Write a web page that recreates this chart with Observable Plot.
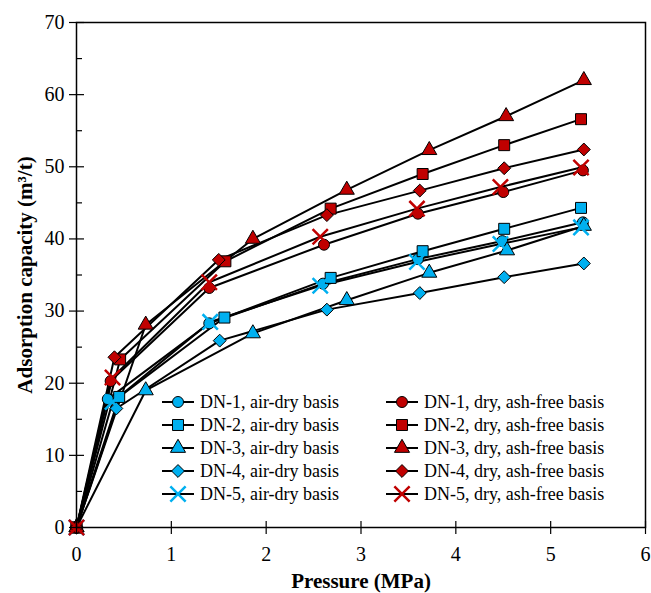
<!DOCTYPE html>
<html>
<head>
<meta charset="utf-8">
<script src="https://cdn.jsdelivr.net/npm/d3@7"></script>
<script src="https://cdn.jsdelivr.net/npm/@observablehq/plot@0.6"></script>
<style>
  html, body { margin: 0; padding: 0; background: #fff; }
  #wrap { position: relative; width: 651px; height: 593px; font-family: 'Liberation Serif', 'Times New Roman', Tinos, 'DejaVu Serif', serif; }
  #wrap svg text { font-family: 'Liberation Serif', 'Times New Roman', Tinos, 'DejaVu Serif', serif; }
  .leg { position: absolute; font-size: 18px; color: #000; white-space: nowrap; line-height: 1; font-family: 'Liberation Serif', 'Times New Roman', Tinos, 'DejaVu Serif', serif; }
  .leg .row { position: absolute; display: flex; align-items: center; height: 20px; }
  .leg svg { overflow: visible; }
</style>
</head>
<body>
<div id="wrap"></div>
<script>
// ---- data ----
const pressure_DN1_air = [0, 0.33, 1.40, 2.60, 3.60, 4.49, 5.34];
const capacity_DN1_air = [0, 17.8, 28.3, 33.8, 37.2, 39.7, 42.3];
const pressure_DN2_air = [0, 0.45, 1.56, 2.68, 3.65, 4.51, 5.32];
const capacity_DN2_air = [0, 18.1, 29.1, 34.6, 38.3, 41.4, 44.3];
const pressure_DN3_air = [0, 0.73, 1.86, 2.85, 3.72, 4.54, 5.35];
const capacity_DN3_air = [0, 19.0, 26.9, 31.5, 35.3, 38.4, 41.8];
const pressure_DN4_air = [0, 0.42, 1.51, 2.64, 3.62, 4.51, 5.35];
const capacity_DN4_air = [0, 16.5, 25.9, 30.2, 32.5, 34.7, 36.6];
const pressure_DN5_air = [0, 0.38, 1.41, 2.57, 3.59, 4.47, 5.32];
const capacity_DN5_air = [0, 17.4, 28.5, 33.5, 36.8, 39.3, 41.6];

const pressure_DN1_daf = [0, 0.36, 1.40, 2.61, 3.60, 4.50, 5.34];
const capacity_DN1_daf = [0, 20.3, 33.2, 39.2, 43.5, 46.5, 49.5];
const pressure_DN2_daf = [0, 0.46, 1.57, 2.68, 3.65, 4.51, 5.32];
const capacity_DN2_daf = [0, 23.3, 36.9, 44.2, 49.0, 53.0, 56.6];
const pressure_DN3_daf = [0, 0.73, 1.86, 2.85, 3.72, 4.53, 5.35];
const capacity_DN3_daf = [0, 28.1, 40.0, 46.8, 52.3, 57.0, 62.0];
const pressure_DN4_daf = [0, 0.40, 1.50, 2.64, 3.62, 4.51, 5.35];
const capacity_DN4_daf = [0, 23.6, 37.1, 43.3, 46.7, 49.8, 52.4];
const pressure_DN5_daf = [0, 0.38, 1.40, 2.57, 3.59, 4.47, 5.32];
const capacity_DN5_daf = [0, 20.8, 34.0, 40.3, 44.2, 47.2, 49.9];

const seriesNames = [
  "DN-1, air-dry basis", "DN-2, air-dry basis", "DN-3, air-dry basis", "DN-4, air-dry basis", "DN-5, air-dry basis",
  "DN-1, dry, ash-free basis", "DN-2, dry, ash-free basis", "DN-3, dry, ash-free basis", "DN-4, dry, ash-free basis", "DN-5, dry, ash-free basis"
];
const seriesPressure = [pressure_DN1_air, pressure_DN2_air, pressure_DN3_air, pressure_DN4_air, pressure_DN5_air,
  pressure_DN1_daf, pressure_DN2_daf, pressure_DN3_daf, pressure_DN4_daf, pressure_DN5_daf];
const seriesCapacity = [capacity_DN1_air, capacity_DN2_air, capacity_DN3_air, capacity_DN4_air, capacity_DN5_air,
  capacity_DN1_daf, capacity_DN2_daf, capacity_DN3_daf, capacity_DN4_daf, capacity_DN5_daf];

const xTicks = [0, 1, 2, 3, 4, 5, 6];
const yTicks = [0, 10, 20, 30, 40, 50, 60, 70];
const yMinorTicks = [5, 15, 25, 35, 45, 55, 65];

// ---- styles ----
const FONT = "'Liberation Serif', 'Times New Roman', Tinos, 'DejaVu Serif', serif";
const BLUE = "#00b0f0";
const RED = "#c00000";
const symbols = ["circle", "square", "triangle", "diamond2", "times"];
const radii = {circle: 5.5, square: 6.2, triangle: 5.6, diamond2: 5.8, times: 7};
const d3sym = {circle: d3.symbolCircle, square: d3.symbolSquare, triangle: d3.symbolTriangle, diamond2: d3.symbolDiamond2, times: d3.symbolTimes};

const series = seriesNames.map((name, i) => ({
  name,
  symbol: symbols[i % 5],
  color: i < 5 ? BLUE : RED,
  data: seriesPressure[i].map((p, j) => ({p, v: seriesCapacity[i][j]}))
}));

const marks = [];
for (const s of series) {
  marks.push(Plot.line(s.data, {x: "p", y: "v", stroke: "black", strokeWidth: 2}));
}
for (const s of series) {
  if (s.symbol === "times") {
    marks.push(Plot.dot(s.data, {x: "p", y: "v", symbol: "times", r: radii.times, stroke: s.color, strokeWidth: 2.5, fill: "none"}));
  } else {
    marks.push(Plot.dot(s.data, {x: "p", y: "v", symbol: s.symbol, r: radii[s.symbol], fill: s.color, stroke: "black", strokeWidth: 1}));
  }
}

const chart = Plot.plot({
  width: 651,
  height: 593,
  marginLeft: 76,
  marginRight: 6,
  marginTop: 22,
  marginBottom: 66,
  style: {fontFamily: FONT, fontSize: "20px", color: "black", background: "white"},
  x: {domain: [0, 6]},
  y: {domain: [0, 70]},
  marks: [
    ...marks,
    Plot.frame({stroke: "black", strokeWidth: 1.5}),
    Plot.axisX({ticks: xTicks, tickSize: 7, tickPadding: 12, tickFormat: d => String(d), label: null, fontSize: 20, strokeWidth: 1.2}),
    Plot.axisX({ticks: xTicks, tickSize: -6, text: null, label: null, strokeWidth: 1.2}),
    Plot.axisY({ticks: yTicks, tickSize: 7, tickPadding: 5, tickFormat: d => String(d), label: null, fontSize: 20, strokeWidth: 1.2}),
    Plot.axisY({ticks: yTicks, tickSize: -8, text: null, label: null, strokeWidth: 1.2}),
    Plot.axisY({ticks: yMinorTicks, tickSize: -6, text: null, label: null, strokeWidth: 1.2}),
    Plot.text(["Pressure (MPa)"], {frameAnchor: "bottom", textAnchor: "middle", lineAnchor: "middle", dy: 54, fontSize: 21, fontWeight: "bold", fill: "black", fontFamily: FONT}),
    Plot.text(["Adsorption capacity (m³/t)"], {frameAnchor: "left", textAnchor: "middle", lineAnchor: "middle", rotate: -90, dx: -51, fontSize: 21, fontWeight: "bold", fill: "black", fontFamily: FONT})
  ]
});

const wrap = document.getElementById("wrap");
wrap.appendChild(chart);

// ---- legend (HTML overlay) ----
const leg = document.createElement("div");
leg.className = "leg";
leg.style.left = "0px";
leg.style.top = "0px";
wrap.appendChild(leg);
const colX = [162, 386];
const rowY = [402, 425, 448, 471, 494];
series.forEach((s, i) => {
  const col = i < 5 ? 0 : 1;
  const row = i % 5;
  const div = document.createElement("div");
  div.className = "row";
  div.style.left = colX[col] + "px";
  div.style.top = (rowY[row] - 10) + "px";
  const r = radii[s.symbol];
  const path = d3.symbol(d3sym[s.symbol], Math.PI * r * r)();
  const symAttrs = s.symbol === "times"
    ? `fill="none" stroke="${s.color}" stroke-width="2.5"`
    : `fill="${s.color}" stroke="black" stroke-width="1"`;
  div.innerHTML = `<svg width="32" height="20" viewBox="0 0 32 20">
      <line x1="0" x2="32" y1="10" y2="10" stroke="black" stroke-width="2"/>
      <path transform="translate(16,10)" d="${path}" ${symAttrs}/>
    </svg><span style="margin-left:6px">${s.name}</span>`;
  leg.appendChild(div);
});
</script>
</body>
</html>
